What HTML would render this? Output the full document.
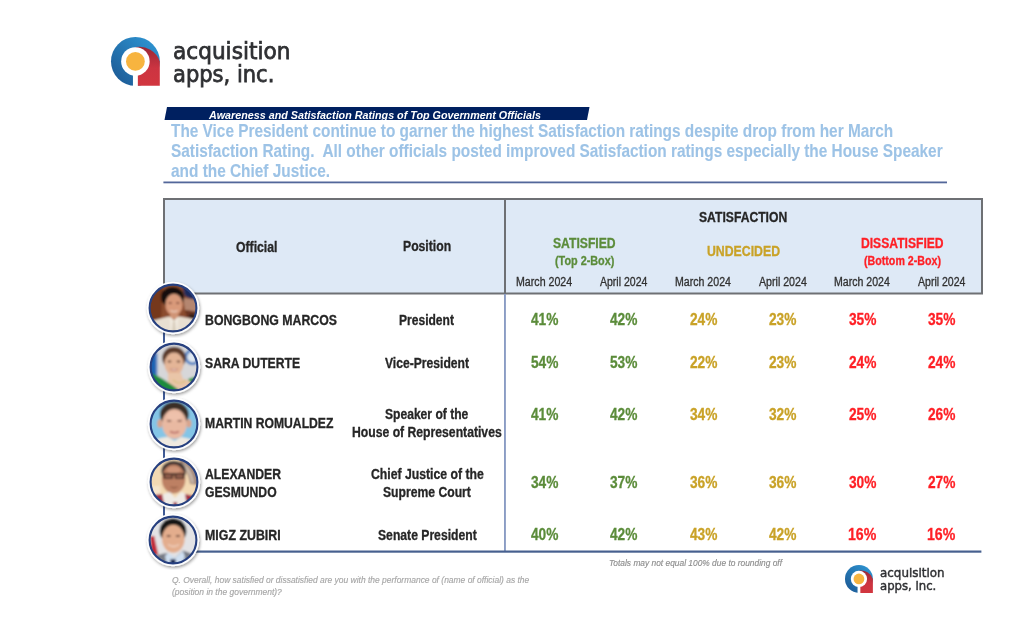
<!DOCTYPE html>
<html><head><meta charset="utf-8"><style>
html,body{margin:0;padding:0;background:#fff;}
body{width:1024px;height:631px;position:relative;overflow:hidden;}
.t{position:absolute;white-space:nowrap;transform-origin:0 0;-webkit-text-stroke:0.3px currentColor;}
.abs{position:absolute;}
</style></head><body>
<svg class="abs" style="left:110.30px;top:36.10px" width="50.80" height="50.80" viewBox="-25.40 -25.40 50.80 50.80">
<defs><linearGradient id="bga" x1="1" y1="0" x2="0" y2="1"><stop offset="0" stop-color="#2f9ad8"/><stop offset="1" stop-color="#1b5590"/></linearGradient>
<linearGradient id="rga" x1="0" y1="0" x2="0" y2="1"><stop offset="0" stop-color="#9a2736"/><stop offset="0.55" stop-color="#cc3441"/><stop offset="1" stop-color="#d2363f"/></linearGradient></defs>
<g transform="scale(1.0000)">
<circle r="24.4" fill="url(#bga)"/>
<path d="M0 24.4 L24.4 24.4 L24.4 0 A21.5 21.5 0 0 0 0 -14.3 L0 0 Z" fill="url(#rga)"/>
<circle r="14.25" fill="#fff"/>
<rect x="-2.45" y="0" width="4.9" height="25.5" fill="#fff"/>
<circle r="9.4" fill="#f7b43f"/>
</g></svg>
<svg class="abs" style="left:0;top:0" width="1024" height="631">
<polygon points="167,107 589.5,107 587,120 164.5,120" fill="#002060"/>
<rect x="163.4" y="181.5" width="783.6" height="1.8" fill="#53679a"/>
<rect x="163" y="198" width="820" height="96" fill="#dee9f6"/>
<rect x="164" y="199" width="818" height="94.5" fill="none" stroke="#6e7074" stroke-width="2"/>
<rect x="504" y="199" width="2" height="95" fill="#6e7074"/>
<rect x="504" y="294" width="1.9" height="257" fill="#8a9cc4"/>
<rect x="163" y="294" width="2" height="257" fill="#3f5a95"/>
<rect x="163" y="550.5" width="818.4" height="2.2" fill="#47608f"/>
</svg>
<svg class="abs" style="left:143.40px;top:278.10px" width="60" height="60" viewBox="-30 -30 60 60">
<defs><clipPath id="cpp1"><circle r="23.2"/></clipPath>
<filter id="shp1" x="-50%" y="-50%" width="200%" height="200%"><feDropShadow dx="0.9" dy="1.6" stdDeviation="1.7" flood-color="#000" flood-opacity="0.38"/></filter>
<filter id="blp1" x="-10%" y="-10%" width="120%" height="120%"><feGaussianBlur stdDeviation="0.8"/></filter></defs>
<circle r="26.2" fill="#fff" filter="url(#shp1)"/>
<g clip-path="url(#cpp1)"><g filter="url(#blp1)"><rect x="-30" y="-30" width="60" height="60" fill="#8b4b2d"/>
<path d="M-26 -20 L-10 -24 L-12 12 L-26 12Z" fill="#74391f"/>
<path d="M8 -26 L28 -26 L28 -6 L20 -8 L12 -12Z" fill="#1e2a5c"/>
<path d="M10 -10 L26 -8 L26 4 L12 2Z" fill="#b48670"/>
<path d="M12 2 L26 4 L26 14 L14 12Z" fill="#6a3520"/>
<ellipse cx="19" cy="8" rx="3" ry="2" fill="#2a1a14"/>
<ellipse cx="-0.5" cy="-11" rx="11.6" ry="10.2" fill="#17110d"/><path d="M-11.5 -12 L-8 -12 L-8.5 -5 L-11 -6Z" fill="#17110d"/>
<ellipse cx="1" cy="-3.5" rx="8.6" ry="10.8" fill="#d99a7a"/>
<ellipse cx="-2.8" cy="-5" rx="1.8" ry="0.8" fill="#6a3a2a"/><ellipse cx="4.8" cy="-5" rx="1.8" ry="0.8" fill="#6a3a2a"/>
<path d="M-2.5 2.5 Q1 5 4.5 2.5" stroke="#ecd2c2" stroke-width="1.2" fill="none"/>
<rect x="-3" y="5" width="8.5" height="6" fill="#cf9476"/>
<path d="M-26 30 L-24 14 C-16 11 -9 10 -4 8.5 L1 12 L6 8.5 C12 9.5 18 10.5 24 12 L27 30Z" fill="#e8dfd1"/>
<path d="M-3 9 L1 13 L5 9 L4 24 L-2 24Z" fill="#f2ece2"/>
<path d="M0 13 L2 13 L3 24 L-1 24Z" fill="#d6cab8"/></g></g>
<circle r="23.4" fill="none" stroke="#27407f" stroke-width="2.1"/>
</svg><svg class="abs" style="left:143.80px;top:336.80px" width="60" height="60" viewBox="-30 -30 60 60">
<defs><clipPath id="cpp2"><circle r="23.2"/></clipPath>
<filter id="shp2" x="-50%" y="-50%" width="200%" height="200%"><feDropShadow dx="0.9" dy="1.6" stdDeviation="1.7" flood-color="#000" flood-opacity="0.38"/></filter>
<filter id="blp2" x="-10%" y="-10%" width="120%" height="120%"><feGaussianBlur stdDeviation="0.8"/></filter></defs>
<circle r="26.2" fill="#fff" filter="url(#shp2)"/>
<g clip-path="url(#cpp2)"><g filter="url(#blp2)"><rect x="-30" y="-30" width="60" height="60" fill="#d7d7d9"/>
<rect x="-26" y="-14" width="3" height="24" fill="#243d7a"/>
<rect x="-23" y="-14" width="5.5" height="24" fill="#1f64b4"/>
<rect x="-17.5" y="-14" width="1.2" height="24" fill="#6f95c8"/>
<circle cx="18.5" cy="-10" r="6.8" fill="none" stroke="#4f82c4" stroke-width="2.8"/>
<circle cx="18.5" cy="-10" r="4.6" fill="#dfe8f2"/>
<ellipse cx="0" cy="-9" rx="11.8" ry="11.2" fill="#5b3b2c"/>
<ellipse cx="0" cy="-3" rx="9.6" ry="11.4" fill="#e4b597"/>
<ellipse cx="-4.5" cy="-5.5" rx="2" ry="0.9" fill="#6a4636"/><ellipse cx="4.5" cy="-5.5" rx="2" ry="0.9" fill="#6a4636"/>
<path d="M-4 2 Q0 5.5 4 2 Z" fill="#f4ece6" stroke="#c07868" stroke-width="0.7"/>
<path d="M-6 6 L7 6 L9 12 L18 14 L22 30 L-6 30Z" fill="#e9c5a8"/>
<path d="M-27 6 C-18 6 -10 13 -2 18 L5 23 L6 30 L-27 30Z" fill="#1e8b3c"/>
<path d="M14 12 L23 9 L23 16 L16 15Z" fill="#2a9a48"/>
<path d="M-1 13 C3 17 8 17 12 13" stroke="#d8c07a" stroke-width="1.1" fill="none"/></g></g>
<circle r="23.4" fill="none" stroke="#27407f" stroke-width="2.1"/>
</svg><svg class="abs" style="left:143.90px;top:394.30px" width="60" height="60" viewBox="-30 -30 60 60">
<defs><clipPath id="cpp3"><circle r="23.2"/></clipPath>
<filter id="shp3" x="-50%" y="-50%" width="200%" height="200%"><feDropShadow dx="0.9" dy="1.6" stdDeviation="1.7" flood-color="#000" flood-opacity="0.38"/></filter>
<filter id="blp3" x="-10%" y="-10%" width="120%" height="120%"><feGaussianBlur stdDeviation="0.8"/></filter></defs>
<circle r="26.2" fill="#fff" filter="url(#shp3)"/>
<g clip-path="url(#cpp3)"><g filter="url(#blp3)"><rect x="-30" y="-30" width="60" height="60" fill="#84c5e6"/>
<ellipse cx="0.3" cy="-9.5" rx="14.4" ry="12.8" fill="#3a2e28"/>
<ellipse cx="-14.2" cy="-0.5" rx="2.6" ry="4.3" fill="#d9a48c"/>
<ellipse cx="14.8" cy="-0.5" rx="2.6" ry="4.3" fill="#d9a48c"/>
<ellipse cx="0.4" cy="0" rx="12.2" ry="15" fill="#e9b9a2"/>
<ellipse cx="0.4" cy="-8" rx="7.5" ry="4.5" fill="#eec1ab"/>
<ellipse cx="-4.8" cy="-3.2" rx="2.4" ry="0.9" fill="#7a5248"/><ellipse cx="5.6000000000000005" cy="-3.2" rx="2.4" ry="0.9" fill="#7a5248"/>
<path d="M-4 7.5 Q0.5 10 5 7.5" stroke="#b86a66" stroke-width="1.6" fill="none"/>
<path d="M-27 30 L-24 18 C-16 14 -9 13 -6 13 L0.5 17 L7 13 C12 14 18 15 24 18 L27 30Z" fill="#efe9e0"/></g></g>
<circle r="23.4" fill="none" stroke="#27407f" stroke-width="2.1"/>
</svg><svg class="abs" style="left:143.80px;top:452.00px" width="60" height="60" viewBox="-30 -30 60 60">
<defs><clipPath id="cpp4"><circle r="23.2"/></clipPath>
<filter id="shp4" x="-50%" y="-50%" width="200%" height="200%"><feDropShadow dx="0.9" dy="1.6" stdDeviation="1.7" flood-color="#000" flood-opacity="0.38"/></filter>
<filter id="blp4" x="-10%" y="-10%" width="120%" height="120%"><feGaussianBlur stdDeviation="0.8"/></filter></defs>
<circle r="26.2" fill="#fff" filter="url(#shp4)"/>
<g clip-path="url(#cpp4)"><g filter="url(#blp4)"><rect x="-30" y="-30" width="60" height="60" fill="#f3d9b3"/>
<path d="M-26 4 L-14 4 L-12 30 L-26 30Z" fill="#f6e5cb"/>
<path d="M6 -25 C17 -22 25 -11 24.5 3 L16 2 C15 -7 11 -14 6 -17Z" fill="#a68b7d"/>
<path d="M9 -19 C15 -15 19 -8 20 1 L17.5 1 C16.5 -7 13 -12 9 -15Z" fill="#cbbbad"/>
<ellipse cx="-0.4" cy="-11" rx="12.2" ry="10.2" fill="#3b3030"/>
<ellipse cx="-0.4" cy="-3" rx="11.8" ry="14.6" fill="#bd8063"/>
<ellipse cx="-0.4" cy="-12" rx="7" ry="3.5" fill="#cf9478"/>
<rect x="-11.5" y="-8.8" width="23" height="1.8" fill="#2a1c1a"/>
<rect x="-10" y="-8.2" width="8.4" height="4.6" rx="1" fill="#9a6450" stroke="#2a1c1a" stroke-width="1.3"/>
<rect x="1.4" y="-8.2" width="8.4" height="4.6" rx="1" fill="#9a6450" stroke="#2a1c1a" stroke-width="1.3"/>
<path d="M-3.5 5 Q0 6.5 3.5 5" stroke="#8a5440" stroke-width="1.3" fill="none"/>
<path d="M-11 12 L-4 10 L1 16 L7 10 L13 12 L15 30 L-13 30Z" fill="#efebe6"/>
<path d="M-27 14 L-12 12 L-8 30 L-27 30Z" fill="#a22b43"/>
<path d="M11 12 L25 15 L25 30 L14 30Z" fill="#a22b43"/>
<path d="M-0.5 20 L3 20 L3.5 30 L-1 30Z" fill="#a22b43"/></g></g>
<circle r="23.4" fill="none" stroke="#27407f" stroke-width="2.1"/>
</svg><svg class="abs" style="left:143.00px;top:510.30px" width="60" height="60" viewBox="-30 -30 60 60">
<defs><clipPath id="cpp5"><circle r="23.2"/></clipPath>
<filter id="shp5" x="-50%" y="-50%" width="200%" height="200%"><feDropShadow dx="0.9" dy="1.6" stdDeviation="1.7" flood-color="#000" flood-opacity="0.38"/></filter>
<filter id="blp5" x="-10%" y="-10%" width="120%" height="120%"><feGaussianBlur stdDeviation="0.8"/></filter></defs>
<circle r="26.2" fill="#fff" filter="url(#shp5)"/>
<g clip-path="url(#cpp5)"><g filter="url(#blp5)"><rect x="-30" y="-30" width="60" height="60" fill="#e3e3e5"/>
<path d="M-23 -4 L-18.8 -4 L-14.6 15 L-22 15Z" fill="#c02a3b"/>
<ellipse cx="0" cy="-9" rx="13.4" ry="12.8" fill="#141414"/>
<ellipse cx="0.3" cy="-1.2" rx="11.3" ry="14" fill="#e3ad8d"/>
<ellipse cx="-4.3" cy="-4" rx="2.2" ry="0.9" fill="#6a4438"/><ellipse cx="4.8999999999999995" cy="-4" rx="2.2" ry="0.9" fill="#6a4438"/>
<path d="M-5 4.5 Q0.5 8.5 6 4.5" stroke="#f0d4c4" stroke-width="1.3" fill="none"/>
<path d="M-27 30 L-25 20 C-19 16 -12 13.5 -6 13 L2 18 L10 10.5 C15 12 20 14 24 18 L27 30Z" fill="#777c86"/>
<path d="M-8 16 L-5 13 L2 18 L10 11 L12 17 L6 30 L-5 30Z" fill="#cfe0f2"/>
<path d="M-2.5 19 L2.5 19 L3.5 30 L-3.5 30Z" fill="#1c2a55"/></g></g>
<circle r="23.4" fill="none" stroke="#27407f" stroke-width="2.1"/>
</svg>
<svg class="abs" style="left:843.60px;top:564.20px" width="29.90" height="29.90" viewBox="-14.95 -14.95 29.90 29.90">
<defs><linearGradient id="bgb" x1="1" y1="0" x2="0" y2="1"><stop offset="0" stop-color="#2f9ad8"/><stop offset="1" stop-color="#1b5590"/></linearGradient>
<linearGradient id="rgb" x1="0" y1="0" x2="0" y2="1"><stop offset="0" stop-color="#9a2736"/><stop offset="0.55" stop-color="#cc3441"/><stop offset="1" stop-color="#d2363f"/></linearGradient></defs>
<g transform="scale(0.5717)">
<circle r="24.4" fill="url(#bgb)"/>
<path d="M0 24.4 L24.4 24.4 L24.4 0 A21.5 21.5 0 0 0 0 -14.3 L0 0 Z" fill="url(#rgb)"/>
<circle r="14.25" fill="#fff"/>
<rect x="-2.45" y="0" width="4.9" height="25.5" fill="#fff"/>
<circle r="9.4" fill="#f7b43f"/>
</g></svg>
<div class="t" style='left:172.64px;top:39.80px;font:normal normal 22.5px/22.5px "DejaVu Sans", sans-serif;color:#2f3033;transform:scaleX(0.9619);-webkit-text-stroke:0.75px #2f3033'>acquisition</div><div class="t" style='left:172.97px;top:62.60px;font:normal normal 22.5px/22.5px "DejaVu Sans", sans-serif;color:#2f3033;transform:scaleX(0.9348);-webkit-text-stroke:0.75px #2f3033'>apps, inc.</div><div class="t" style='left:208.83px;top:109.60px;font:italic bold 11.5px/11.5px "Liberation Sans", Arial, sans-serif;color:#ffffff;transform:scaleX(0.9345);-webkit-text-stroke:0'>Awareness and Satisfaction Ratings of Top Government Officials</div><div class="t" style='left:171.40px;top:121.70px;font:normal bold 18.5px/18.5px "Liberation Sans", Arial, sans-serif;color:#9dc3e6;transform:scaleX(0.8307);-webkit-text-stroke:0.1px'>The Vice President continue to garner the highest Satisfaction ratings despite drop from her March</div><div class="t" style='left:171.40px;top:141.50px;font:normal bold 18.5px/18.5px "Liberation Sans", Arial, sans-serif;color:#9dc3e6;transform:scaleX(0.8309);-webkit-text-stroke:0.1px'>Satisfaction Rating.  All other officials posted improved Satisfaction ratings especially the House Speaker</div><div class="t" style='left:171.30px;top:162.00px;font:normal bold 18.5px/18.5px "Liberation Sans", Arial, sans-serif;color:#9dc3e6;transform:scaleX(0.8318);-webkit-text-stroke:0.1px'>and the Chief Justice.</div><div class="t" style='left:236.10px;top:239.70px;font:normal bold 14px/14px "Liberation Sans", Arial, sans-serif;color:#262626;transform:scaleX(0.8740);'>Official</div><div class="t" style='left:403.30px;top:239.00px;font:normal bold 14px/14px "Liberation Sans", Arial, sans-serif;color:#262626;transform:scaleX(0.8707);'>Position</div><div class="t" style='left:699.10px;top:209.70px;font:normal bold 14px/14px "Liberation Sans", Arial, sans-serif;color:#262626;transform:scaleX(0.8678);'>SATISFACTION</div><div class="t" style='left:553.20px;top:236.30px;font:normal bold 14px/14px "Liberation Sans", Arial, sans-serif;color:#5b8c3a;transform:scaleX(0.8684);'>SATISFIED</div><div class="t" style='left:554.80px;top:254.90px;font:normal bold 12px/12px "Liberation Sans", Arial, sans-serif;color:#5b8c3a;transform:scaleX(0.9016);'>(Top 2-Box)</div><div class="t" style='left:706.60px;top:244.20px;font:normal bold 14px/14px "Liberation Sans", Arial, sans-serif;color:#c9a227;transform:scaleX(0.8771);'>UNDECIDED</div><div class="t" style='left:860.60px;top:236.40px;font:normal bold 14px/14px "Liberation Sans", Arial, sans-serif;color:#ff1f25;transform:scaleX(0.8656);'>DISSATISFIED</div><div class="t" style='left:863.80px;top:254.60px;font:normal bold 12px/12px "Liberation Sans", Arial, sans-serif;color:#ff1f25;transform:scaleX(0.8885);'>(Bottom 2-Box)</div><div class="t" style='left:516.20px;top:275.50px;font:normal normal 12px/12px "Liberation Sans", Arial, sans-serif;color:#303030;transform:scaleX(0.8870);'>March 2024</div><div class="t" style='left:600.10px;top:275.50px;font:normal normal 12px/12px "Liberation Sans", Arial, sans-serif;color:#303030;transform:scaleX(0.8756);'>April 2024</div><div class="t" style='left:675.00px;top:275.50px;font:normal normal 12px/12px "Liberation Sans", Arial, sans-serif;color:#303030;transform:scaleX(0.8823);'>March 2024</div><div class="t" style='left:758.70px;top:275.50px;font:normal normal 12px/12px "Liberation Sans", Arial, sans-serif;color:#303030;transform:scaleX(0.8848);'>April 2024</div><div class="t" style='left:834.10px;top:275.50px;font:normal normal 12px/12px "Liberation Sans", Arial, sans-serif;color:#303030;transform:scaleX(0.8808);'>March 2024</div><div class="t" style='left:917.60px;top:275.50px;font:normal normal 12px/12px "Liberation Sans", Arial, sans-serif;color:#303030;transform:scaleX(0.8775);'>April 2024</div><div class="t" style='left:205.40px;top:313.00px;font:normal bold 14px/14px "Liberation Sans", Arial, sans-serif;color:#262626;transform:scaleX(0.8793);'>BONGBONG MARCOS</div><div class="t" style='left:399.40px;top:312.90px;font:normal bold 14px/14px "Liberation Sans", Arial, sans-serif;color:#262626;transform:scaleX(0.8606);'>President</div><div class="t" style='left:205.00px;top:355.80px;font:normal bold 14px/14px "Liberation Sans", Arial, sans-serif;color:#262626;transform:scaleX(0.8717);'>SARA DUTERTE</div><div class="t" style='left:385.00px;top:356.40px;font:normal bold 14px/14px "Liberation Sans", Arial, sans-serif;color:#262626;transform:scaleX(0.8660);'>Vice-President</div><div class="t" style='left:205.20px;top:415.90px;font:normal bold 14px/14px "Liberation Sans", Arial, sans-serif;color:#262626;transform:scaleX(0.8691);'>MARTIN ROMUALDEZ</div><div class="t" style='left:385.20px;top:407.10px;font:normal bold 14px/14px "Liberation Sans", Arial, sans-serif;color:#262626;transform:scaleX(0.8636);'>Speaker of the</div><div class="t" style='left:352.00px;top:425.20px;font:normal bold 14px/14px "Liberation Sans", Arial, sans-serif;color:#262626;transform:scaleX(0.8707);'>House of Representatives</div><div class="t" style='left:204.80px;top:466.60px;font:normal bold 14px/14px "Liberation Sans", Arial, sans-serif;color:#262626;transform:scaleX(0.8723);'>ALEXANDER</div><div class="t" style='left:204.80px;top:485.30px;font:normal bold 14px/14px "Liberation Sans", Arial, sans-serif;color:#262626;transform:scaleX(0.8685);'>GESMUNDO</div><div class="t" style='left:370.70px;top:467.30px;font:normal bold 14px/14px "Liberation Sans", Arial, sans-serif;color:#262626;transform:scaleX(0.8736);'>Chief Justice of the</div><div class="t" style='left:383.20px;top:484.80px;font:normal bold 14px/14px "Liberation Sans", Arial, sans-serif;color:#262626;transform:scaleX(0.8693);'>Supreme Court</div><div class="t" style='left:204.90px;top:528.30px;font:normal bold 14px/14px "Liberation Sans", Arial, sans-serif;color:#262626;transform:scaleX(0.8848);'>MIGZ ZUBIRI</div><div class="t" style='left:377.60px;top:528.10px;font:normal bold 14px/14px "Liberation Sans", Arial, sans-serif;color:#262626;transform:scaleX(0.8689);'>Senate President</div><div class="t" style='left:530.90px;top:312.10px;font:normal bold 16px/16px "Liberation Sans", Arial, sans-serif;color:#5b8c3a;transform:scaleX(0.8554);'>41%</div><div class="t" style='left:610.30px;top:312.10px;font:normal bold 16px/16px "Liberation Sans", Arial, sans-serif;color:#5b8c3a;transform:scaleX(0.8554);'>42%</div><div class="t" style='left:689.50px;top:312.10px;font:normal bold 16px/16px "Liberation Sans", Arial, sans-serif;color:#c9a227;transform:scaleX(0.8554);'>24%</div><div class="t" style='left:769.20px;top:312.10px;font:normal bold 16px/16px "Liberation Sans", Arial, sans-serif;color:#c9a227;transform:scaleX(0.8554);'>23%</div><div class="t" style='left:848.60px;top:312.10px;font:normal bold 16px/16px "Liberation Sans", Arial, sans-serif;color:#ff1f25;transform:scaleX(0.8554);'>35%</div><div class="t" style='left:927.90px;top:312.10px;font:normal bold 16px/16px "Liberation Sans", Arial, sans-serif;color:#ff1f25;transform:scaleX(0.8554);'>35%</div><div class="t" style='left:530.90px;top:354.90px;font:normal bold 16px/16px "Liberation Sans", Arial, sans-serif;color:#5b8c3a;transform:scaleX(0.8554);'>54%</div><div class="t" style='left:610.30px;top:354.90px;font:normal bold 16px/16px "Liberation Sans", Arial, sans-serif;color:#5b8c3a;transform:scaleX(0.8554);'>53%</div><div class="t" style='left:689.50px;top:354.90px;font:normal bold 16px/16px "Liberation Sans", Arial, sans-serif;color:#c9a227;transform:scaleX(0.8554);'>22%</div><div class="t" style='left:769.20px;top:354.90px;font:normal bold 16px/16px "Liberation Sans", Arial, sans-serif;color:#c9a227;transform:scaleX(0.8554);'>23%</div><div class="t" style='left:848.60px;top:354.90px;font:normal bold 16px/16px "Liberation Sans", Arial, sans-serif;color:#ff1f25;transform:scaleX(0.8554);'>24%</div><div class="t" style='left:927.90px;top:354.90px;font:normal bold 16px/16px "Liberation Sans", Arial, sans-serif;color:#ff1f25;transform:scaleX(0.8554);'>24%</div><div class="t" style='left:530.90px;top:406.60px;font:normal bold 16px/16px "Liberation Sans", Arial, sans-serif;color:#5b8c3a;transform:scaleX(0.8554);'>41%</div><div class="t" style='left:610.30px;top:406.60px;font:normal bold 16px/16px "Liberation Sans", Arial, sans-serif;color:#5b8c3a;transform:scaleX(0.8554);'>42%</div><div class="t" style='left:689.50px;top:406.60px;font:normal bold 16px/16px "Liberation Sans", Arial, sans-serif;color:#c9a227;transform:scaleX(0.8554);'>34%</div><div class="t" style='left:769.20px;top:406.60px;font:normal bold 16px/16px "Liberation Sans", Arial, sans-serif;color:#c9a227;transform:scaleX(0.8554);'>32%</div><div class="t" style='left:848.60px;top:406.60px;font:normal bold 16px/16px "Liberation Sans", Arial, sans-serif;color:#ff1f25;transform:scaleX(0.8554);'>25%</div><div class="t" style='left:927.90px;top:406.60px;font:normal bold 16px/16px "Liberation Sans", Arial, sans-serif;color:#ff1f25;transform:scaleX(0.8554);'>26%</div><div class="t" style='left:530.90px;top:475.40px;font:normal bold 16px/16px "Liberation Sans", Arial, sans-serif;color:#5b8c3a;transform:scaleX(0.8554);'>34%</div><div class="t" style='left:610.30px;top:475.40px;font:normal bold 16px/16px "Liberation Sans", Arial, sans-serif;color:#5b8c3a;transform:scaleX(0.8554);'>37%</div><div class="t" style='left:689.50px;top:475.40px;font:normal bold 16px/16px "Liberation Sans", Arial, sans-serif;color:#c9a227;transform:scaleX(0.8554);'>36%</div><div class="t" style='left:769.20px;top:475.40px;font:normal bold 16px/16px "Liberation Sans", Arial, sans-serif;color:#c9a227;transform:scaleX(0.8554);'>36%</div><div class="t" style='left:848.60px;top:475.40px;font:normal bold 16px/16px "Liberation Sans", Arial, sans-serif;color:#ff1f25;transform:scaleX(0.8554);'>30%</div><div class="t" style='left:927.90px;top:475.40px;font:normal bold 16px/16px "Liberation Sans", Arial, sans-serif;color:#ff1f25;transform:scaleX(0.8554);'>27%</div><div class="t" style='left:530.90px;top:527.20px;font:normal bold 16px/16px "Liberation Sans", Arial, sans-serif;color:#5b8c3a;transform:scaleX(0.8554);'>40%</div><div class="t" style='left:610.30px;top:527.20px;font:normal bold 16px/16px "Liberation Sans", Arial, sans-serif;color:#5b8c3a;transform:scaleX(0.8554);'>42%</div><div class="t" style='left:689.50px;top:527.20px;font:normal bold 16px/16px "Liberation Sans", Arial, sans-serif;color:#c9a227;transform:scaleX(0.8554);'>43%</div><div class="t" style='left:769.20px;top:527.20px;font:normal bold 16px/16px "Liberation Sans", Arial, sans-serif;color:#c9a227;transform:scaleX(0.8554);'>42%</div><div class="t" style='left:847.72px;top:527.20px;font:normal bold 16px/16px "Liberation Sans", Arial, sans-serif;color:#ff1f25;transform:scaleX(0.8832);'>16%</div><div class="t" style='left:927.02px;top:527.20px;font:normal bold 16px/16px "Liberation Sans", Arial, sans-serif;color:#ff1f25;transform:scaleX(0.8832);'>16%</div><div class="t" style='left:609.40px;top:557.50px;font:italic normal 9.5px/9.5px "Liberation Sans", Arial, sans-serif;color:#8c8c8c;transform:scaleX(0.8821);-webkit-text-stroke:0.15px #8c8c8c'>Totals may not equal 100% due to rounding off</div><div class="t" style='left:171.80px;top:575.90px;font:italic normal 9px/9px "Liberation Sans", Arial, sans-serif;color:#a6a6a6;transform:scaleX(0.9396);-webkit-text-stroke:0.15px #a6a6a6'>Q. Overall, how satisfied or dissatisfied are you with the performance of (name of official) as the</div><div class="t" style='left:171.80px;top:588.30px;font:italic normal 9px/9px "Liberation Sans", Arial, sans-serif;color:#a6a6a6;transform:scaleX(0.9420);-webkit-text-stroke:0.15px #a6a6a6'>(position in the government)?</div><div class="t" style='left:879.80px;top:567.20px;font:normal normal 12.8px/12.8px "DejaVu Sans", sans-serif;color:#2f3033;transform:scaleX(0.9294);-webkit-text-stroke:0.45px #2f3033'>acquisition</div><div class="t" style='left:879.80px;top:579.90px;font:normal normal 12.8px/12.8px "DejaVu Sans", sans-serif;color:#2f3033;transform:scaleX(0.9127);-webkit-text-stroke:0.45px #2f3033'>apps, inc.</div>
</body></html>
